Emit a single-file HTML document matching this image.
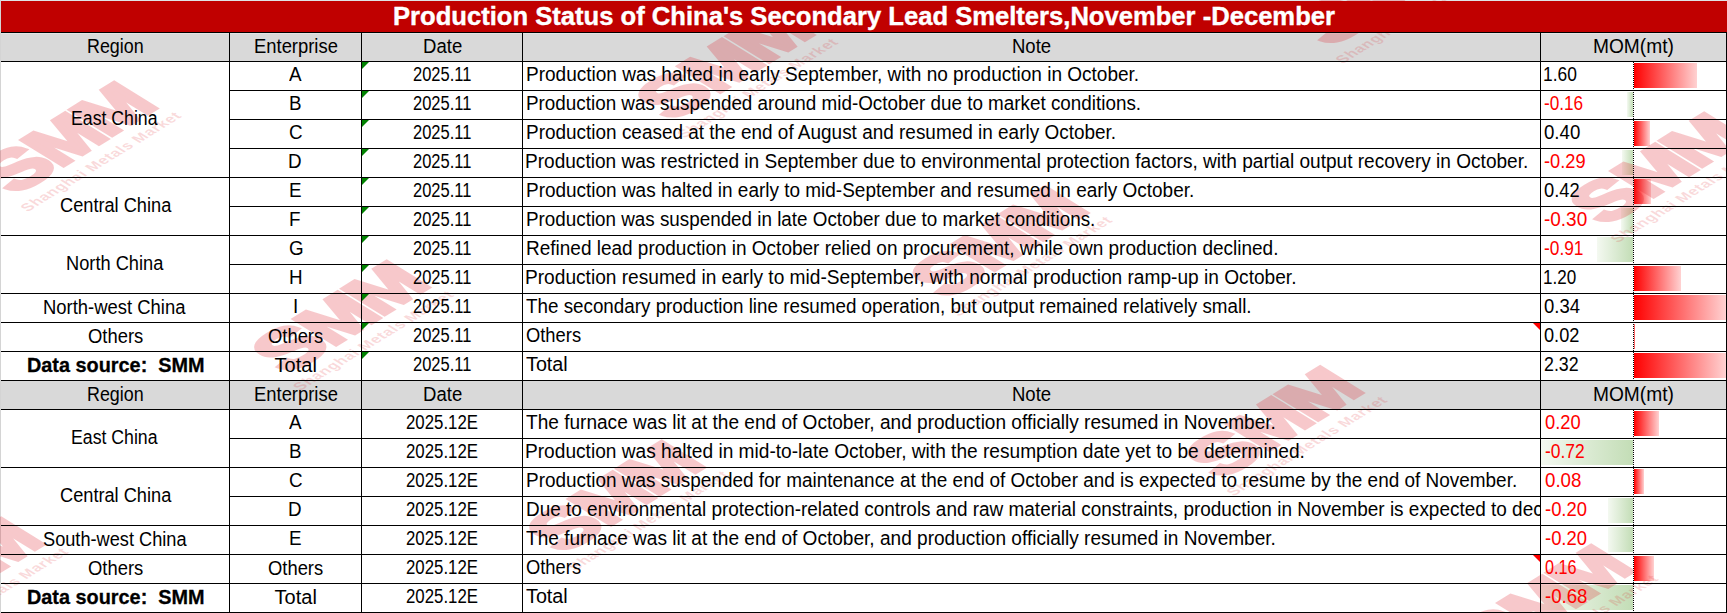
<!DOCTYPE html>
<html><head><meta charset="utf-8"><title>Production Status</title>
<style>
html,body{margin:0;padding:0;}
body{font-family:"Liberation Sans",sans-serif;color:#000;background:#fff;}
.x{position:absolute;white-space:nowrap;line-height:24px;height:24px;transform-origin:0 0;}
.n{font-size:20px;}
.b{font-size:21px;font-weight:bold;-webkit-text-stroke:0.3px currentColor;}
.ttl{font-size:26px;font-weight:bold;line-height:30px;height:30px;-webkit-text-stroke:0.4px currentColor;}

body{width:1727px;height:613px;position:relative;overflow:hidden;}
.abs{position:absolute;}
.hl{position:absolute;height:1px;background:#000;left:1px;}
.vl{position:absolute;width:1px;background:#000;}
.gt{position:absolute;width:0;height:0;border-top:7px solid #008200;border-right:7px solid transparent;}
.rt{position:absolute;width:0;height:0;border-top:7px solid #ff0000;border-left:7px solid transparent;}
.bp{position:absolute;height:25px;background:linear-gradient(to right,#ff0000,#ffd2d2);}
.bn{position:absolute;height:25px;background:linear-gradient(to right,#f4f9f1,#c3ddb6);}
.ax{position:absolute;width:1px;background:repeating-linear-gradient(to bottom,#000 0,#000 1px,transparent 1px,transparent 2px);}
</style></head><body>

<div class="abs" style="left:0;top:0;width:1727px;height:1px;background:#dfe3e6"></div>
<div class="abs" style="left:0;top:0;width:1px;height:613px;background:#d4d4d4"></div>
<div class="abs" style="left:1px;top:33px;width:1725px;height:28px;background:#d9d9d9"></div>
<div class="abs" style="left:1px;top:33px;width:1725px;height:1px;background:#e4e4e4"></div>
<div class="abs" style="left:1px;top:381px;width:1725px;height:28px;background:#d9d9d9"></div>
<div class="bp" style="left:1634px;top:63px;width:63px"></div>
<div class="bn" style="left:1627px;top:92px;width:6px"></div>
<div class="bp" style="left:1634px;top:121px;width:16px"></div>
<div class="bn" style="left:1622px;top:150px;width:11px"></div>
<div class="bp" style="left:1634px;top:179px;width:17px"></div>
<div class="bn" style="left:1621px;top:208px;width:12px"></div>
<div class="bn" style="left:1597px;top:237px;width:36px"></div>
<div class="bp" style="left:1634px;top:266px;width:47px"></div>
<div class="bp" style="left:1634px;top:295px;width:92px"></div>
<div class="bp" style="left:1634px;top:324px;width:1px"></div>
<div class="bp" style="left:1634px;top:353px;width:92px"></div>
<div class="bp" style="left:1634px;top:411px;width:25px"></div>
<div class="bn" style="left:1541px;top:440px;width:92px"></div>
<div class="bp" style="left:1634px;top:469px;width:10px"></div>
<div class="bn" style="left:1608px;top:498px;width:25px"></div>
<div class="bn" style="left:1608px;top:527px;width:25px"></div>
<div class="bp" style="left:1634px;top:556px;width:20px"></div>
<div class="bn" style="left:1541px;top:585px;width:92px"></div>
<svg class="abs" style="left:0;top:0;opacity:0.23" width="1727" height="613" viewBox="0 0 1727 613">
<g transform="translate(22.0,210.0) scale(1.618,1) rotate(-45)"><g fill="#e01822" font-family="Liberation Sans, sans-serif" font-weight="bold"><g font-size="53" stroke="#e01822" stroke-width="3.4" stroke-linejoin="miter" text-anchor="middle"><text transform="translate(27.2,-13.2) scale(1.13,1)">S</text><text transform="translate(68.5,-13.2) scale(1.02,1)">M</text><text transform="translate(111.2,-13.2) scale(1.03,1)">M</text></g><text x="1" y="4" font-size="11" textLength="135" lengthAdjust="spacing" fill-opacity="0.7">Shanghai Metals Market</text></g></g>
<g transform="translate(678.8,136.4) scale(1.618,1) rotate(-45)"><g fill="#e01822" font-family="Liberation Sans, sans-serif" font-weight="bold"><g font-size="53" stroke="#e01822" stroke-width="3.4" stroke-linejoin="miter" text-anchor="middle"><text transform="translate(27.2,-13.2) scale(1.13,1)">S</text><text transform="translate(68.5,-13.2) scale(1.02,1)">M</text><text transform="translate(111.2,-13.2) scale(1.03,1)">M</text></g><text x="1" y="4" font-size="11" textLength="135" lengthAdjust="spacing" fill-opacity="0.7">Shanghai Metals Market</text></g></g>
<g transform="translate(1337.0,62.0) scale(1.618,1) rotate(-45)"><g fill="#e01822" font-family="Liberation Sans, sans-serif" font-weight="bold"><g font-size="53" stroke="#e01822" stroke-width="3.4" stroke-linejoin="miter" text-anchor="middle"><text transform="translate(27.2,-13.2) scale(1.13,1)">S</text><text transform="translate(68.5,-13.2) scale(1.02,1)">M</text><text transform="translate(111.2,-13.2) scale(1.03,1)">M</text></g><text x="1" y="4" font-size="11" textLength="135" lengthAdjust="spacing" fill-opacity="0.7">Shanghai Metals Market</text></g></g>
<g transform="translate(1612.0,241.0) scale(1.618,1) rotate(-45)"><g fill="#e01822" font-family="Liberation Sans, sans-serif" font-weight="bold"><g font-size="53" stroke="#e01822" stroke-width="3.4" stroke-linejoin="miter" text-anchor="middle"><text transform="translate(27.2,-13.2) scale(1.13,1)">S</text><text transform="translate(68.5,-13.2) scale(1.02,1)">M</text><text transform="translate(111.2,-13.2) scale(1.03,1)">M</text></g><text x="1" y="4" font-size="11" textLength="135" lengthAdjust="spacing" fill-opacity="0.7">Shanghai Metals Market</text></g></g>
<g transform="translate(294.5,389.0) scale(1.618,1) rotate(-45)"><g fill="#e01822" font-family="Liberation Sans, sans-serif" font-weight="bold"><g font-size="53" stroke="#e01822" stroke-width="3.4" stroke-linejoin="miter" text-anchor="middle"><text transform="translate(27.2,-13.2) scale(1.13,1)">S</text><text transform="translate(68.5,-13.2) scale(1.02,1)">M</text><text transform="translate(111.2,-13.2) scale(1.03,1)">M</text></g><text x="1" y="4" font-size="11" textLength="135" lengthAdjust="spacing" fill-opacity="0.7">Shanghai Metals Market</text></g></g>
<g transform="translate(953.0,314.5) scale(1.618,1) rotate(-45)"><g fill="#e01822" font-family="Liberation Sans, sans-serif" font-weight="bold"><g font-size="53" stroke="#e01822" stroke-width="3.4" stroke-linejoin="miter" text-anchor="middle"><text transform="translate(27.2,-13.2) scale(1.13,1)">S</text><text transform="translate(68.5,-13.2) scale(1.02,1)">M</text><text transform="translate(111.2,-13.2) scale(1.03,1)">M</text></g><text x="1" y="4" font-size="11" textLength="135" lengthAdjust="spacing" fill-opacity="0.7">Shanghai Metals Market</text></g></g>
<g transform="translate(569.5,569.0) scale(1.618,1) rotate(-45)"><g fill="#e01822" font-family="Liberation Sans, sans-serif" font-weight="bold"><g font-size="53" stroke="#e01822" stroke-width="3.4" stroke-linejoin="miter" text-anchor="middle"><text transform="translate(27.2,-13.2) scale(1.13,1)">S</text><text transform="translate(68.5,-13.2) scale(1.02,1)">M</text><text transform="translate(111.2,-13.2) scale(1.03,1)">M</text></g><text x="1" y="4" font-size="11" textLength="135" lengthAdjust="spacing" fill-opacity="0.7">Shanghai Metals Market</text></g></g>
<g transform="translate(1228.0,494.4) scale(1.618,1) rotate(-45)"><g fill="#e01822" font-family="Liberation Sans, sans-serif" font-weight="bold"><g font-size="53" stroke="#e01822" stroke-width="3.4" stroke-linejoin="miter" text-anchor="middle"><text transform="translate(27.2,-13.2) scale(1.13,1)">S</text><text transform="translate(68.5,-13.2) scale(1.02,1)">M</text><text transform="translate(111.2,-13.2) scale(1.03,1)">M</text></g><text x="1" y="4" font-size="11" textLength="135" lengthAdjust="spacing" fill-opacity="0.7">Shanghai Metals Market</text></g></g>
<g transform="translate(-91.0,646.0) scale(1.618,1) rotate(-45)"><g fill="#e01822" font-family="Liberation Sans, sans-serif" font-weight="bold"><g font-size="53" stroke="#e01822" stroke-width="3.4" stroke-linejoin="miter" text-anchor="middle"><text transform="translate(27.2,-13.2) scale(1.13,1)">S</text><text transform="translate(68.5,-13.2) scale(1.02,1)">M</text><text transform="translate(111.2,-13.2) scale(1.03,1)">M</text></g><text x="1" y="4" font-size="11" textLength="135" lengthAdjust="spacing" fill-opacity="0.7">Shanghai Metals Market</text></g></g>
<g transform="translate(1499.0,673.0) scale(1.618,1) rotate(-45)"><g fill="#e01822" font-family="Liberation Sans, sans-serif" font-weight="bold"><g font-size="53" stroke="#e01822" stroke-width="3.4" stroke-linejoin="miter" text-anchor="middle"><text transform="translate(27.2,-13.2) scale(1.13,1)">S</text><text transform="translate(68.5,-13.2) scale(1.02,1)">M</text><text transform="translate(111.2,-13.2) scale(1.03,1)">M</text></g><text x="1" y="4" font-size="11" textLength="135" lengthAdjust="spacing" fill-opacity="0.7">Shanghai Metals Market</text></g></g>
</svg>
<div class="abs" style="left:1px;top:1px;width:1726px;height:31px;background:#c00000"></div>
<div class="hl" style="top:32px;width:1726px"></div>
<div class="hl" style="top:61px;width:1726px"></div>
<div class="hl" style="left:229px;top:90px;width:1498px"></div>
<div class="hl" style="left:229px;top:119px;width:1498px"></div>
<div class="hl" style="left:229px;top:148px;width:1498px"></div>
<div class="hl" style="top:177px;width:1726px"></div>
<div class="hl" style="left:229px;top:206px;width:1498px"></div>
<div class="hl" style="top:235px;width:1726px"></div>
<div class="hl" style="left:229px;top:264px;width:1498px"></div>
<div class="hl" style="top:293px;width:1726px"></div>
<div class="hl" style="top:322px;width:1726px"></div>
<div class="hl" style="top:351px;width:1726px"></div>
<div class="hl" style="top:380px;width:1726px"></div>
<div class="hl" style="top:409px;width:1726px"></div>
<div class="hl" style="left:229px;top:438px;width:1498px"></div>
<div class="hl" style="top:467px;width:1726px"></div>
<div class="hl" style="left:229px;top:496px;width:1498px"></div>
<div class="hl" style="top:525px;width:1726px"></div>
<div class="hl" style="top:554px;width:1726px"></div>
<div class="hl" style="top:583px;width:1726px"></div>
<div class="hl" style="top:612px;width:1726px"></div>
<div class="vl" style="left:229px;top:32px;height:581px"></div>
<div class="vl" style="left:361px;top:32px;height:581px"></div>
<div class="vl" style="left:522px;top:32px;height:581px"></div>
<div class="vl" style="left:1540px;top:32px;height:581px"></div>
<div class="vl" style="left:1726px;top:32px;height:581px"></div>
<div class="x ttl" style="left:393.12px;top:1px;transform:scaleX(0.9844);color:#fff;">Production Status of China&#x27;s Secondary Lead Smelters,November -December</div>
<div class="x n" style="left:86.71px;top:34px;transform:scaleX(0.8933);">Region</div>
<div class="x n" style="left:253.76px;top:34px;transform:scaleX(0.9205);">Enterprise</div>
<div class="x n" style="left:422.94px;top:34px;transform:scaleX(0.9282);">Date</div>
<div class="x n" style="left:1011.95px;top:34px;transform:scaleX(0.9256);">Note</div>
<div class="x n" style="left:1593.28px;top:34px;transform:scaleX(0.9580);">MOM(mt)</div>
<div class="x n" style="left:86.71px;top:382px;transform:scaleX(0.8933);">Region</div>
<div class="x n" style="left:253.76px;top:382px;transform:scaleX(0.9205);">Enterprise</div>
<div class="x n" style="left:422.94px;top:382px;transform:scaleX(0.9282);">Date</div>
<div class="x n" style="left:1011.95px;top:382px;transform:scaleX(0.9256);">Note</div>
<div class="x n" style="left:1593.28px;top:382px;transform:scaleX(0.9580);">MOM(mt)</div>
<div class="x n" style="left:289.49px;top:62px;transform:scaleX(0.9400);">A</div>
<div class="x n" style="left:412.68px;top:62px;transform:scaleX(0.8246);">2025.11</div>
<div class="x n note" style="left:525.50px;top:62px;transform:scaleX(0.9509);">Production was halted in early September, with no production in October.</div>
<div class="x n" style="left:1542.86px;top:62px;transform:scaleX(0.8694);">1.60</div>
<div class="x n" style="left:289.02px;top:91px;transform:scaleX(0.9400);">B</div>
<div class="x n" style="left:412.68px;top:91px;transform:scaleX(0.8246);">2025.11</div>
<div class="x n note" style="left:525.51px;top:91px;transform:scaleX(0.9425);">Production was suspended around mid-October due to market conditions.</div>
<div class="x n" style="left:1544.44px;top:91px;transform:scaleX(0.8591);color:#ff0000;">-0.16</div>
<div class="x n" style="left:288.55px;top:120px;transform:scaleX(0.9400);">C</div>
<div class="x n" style="left:412.68px;top:120px;transform:scaleX(0.8246);">2025.11</div>
<div class="x n note" style="left:525.50px;top:120px;transform:scaleX(0.9477);">Production ceased at the end of August and resumed in early October.</div>
<div class="x n" style="left:1544.37px;top:120px;transform:scaleX(0.9324);">0.40</div>
<div class="x n" style="left:288.08px;top:149px;transform:scaleX(0.9400);">D</div>
<div class="x n" style="left:412.68px;top:149px;transform:scaleX(0.8246);">2025.11</div>
<div class="x n note" style="left:525.49px;top:149px;transform:scaleX(0.9530);">Production was restricted in September due to environmental protection factors, with partial output recovery in October.</div>
<div class="x n" style="left:1544.39px;top:149px;transform:scaleX(0.9114);color:#ff0000;">-0.29</div>
<div class="x n" style="left:288.55px;top:178px;transform:scaleX(0.9400);">E</div>
<div class="x n" style="left:412.68px;top:178px;transform:scaleX(0.8246);">2025.11</div>
<div class="x n note" style="left:525.50px;top:178px;transform:scaleX(0.9481);">Production was halted in early to mid-September and resumed in early October.</div>
<div class="x n" style="left:1544.38px;top:178px;transform:scaleX(0.9162);">0.42</div>
<div class="x n" style="left:289.02px;top:207px;transform:scaleX(0.9400);">F</div>
<div class="x n" style="left:412.68px;top:207px;transform:scaleX(0.8246);">2025.11</div>
<div class="x n note" style="left:525.52px;top:207px;transform:scaleX(0.9413);">Production was suspended in late October due to market conditions.</div>
<div class="x n" style="left:1544.35px;top:207px;transform:scaleX(0.9477);color:#ff0000;">-0.30</div>
<div class="x n" style="left:288.55px;top:236px;transform:scaleX(0.9400);">G</div>
<div class="x n" style="left:412.68px;top:236px;transform:scaleX(0.8246);">2025.11</div>
<div class="x n note" style="left:525.50px;top:236px;transform:scaleX(0.9492);">Refined lead production in October relied on procurement, while own production declined.</div>
<div class="x n" style="left:1544.43px;top:236px;transform:scaleX(0.8659);color:#ff0000;">-0.91</div>
<div class="x n" style="left:288.55px;top:265px;transform:scaleX(0.9400);">H</div>
<div class="x n" style="left:412.68px;top:265px;transform:scaleX(0.8246);">2025.11</div>
<div class="x n note" style="left:525.49px;top:265px;transform:scaleX(0.9559);">Production resumed in early to mid-September, with normal production ramp-up in October.</div>
<div class="x n" style="left:1542.89px;top:265px;transform:scaleX(0.8528);">1.20</div>
<div class="x n" style="left:292.78px;top:294px;transform:scaleX(0.9400);">I</div>
<div class="x n" style="left:412.68px;top:294px;transform:scaleX(0.8246);">2025.11</div>
<div class="x n note" style="left:526.10px;top:294px;transform:scaleX(0.9404);">The secondary production line resumed operation, but output remained relatively small.</div>
<div class="x n" style="left:1544.38px;top:294px;transform:scaleX(0.9243);">0.34</div>
<div class="x n" style="left:268.38px;top:324px;transform:scaleX(0.9190);">Others</div>
<div class="x n" style="left:412.68px;top:323px;transform:scaleX(0.8246);">2025.11</div>
<div class="x n note" style="left:526.48px;top:323px;transform:scaleX(0.9172);">Others</div>
<div class="x n" style="left:1544.39px;top:323px;transform:scaleX(0.9081);">0.02</div>
<div class="x n" style="left:274.40px;top:353px;letter-spacing:0.100px;">Total</div>
<div class="x n" style="left:412.68px;top:352px;transform:scaleX(0.8246);">2025.11</div>
<div class="x n note" style="left:526.10px;top:352px;transform:scaleX(0.9878);">Total</div>
<div class="x n" style="left:1544.41px;top:352px;transform:scaleX(0.8892);">2.32</div>
<div class="x n" style="left:289.49px;top:410px;transform:scaleX(0.9400);">A</div>
<div class="x n" style="left:405.76px;top:410px;transform:scaleX(0.8405);">2025.12E</div>
<div class="x n note" style="left:526.10px;top:410px;transform:scaleX(0.9532);">The furnace was lit at the end of October, and production officially resumed in November.</div>
<div class="x n" style="left:1544.68px;top:410px;transform:scaleX(0.9162);color:#ff0000;">0.20</div>
<div class="x n" style="left:289.02px;top:439px;transform:scaleX(0.9400);">B</div>
<div class="x n" style="left:405.76px;top:439px;transform:scaleX(0.8405);">2025.12E</div>
<div class="x n note" style="left:525.49px;top:439px;transform:scaleX(0.9558);">Production was halted in mid-to-late October, with the resumption date yet to be determined.</div>
<div class="x n" style="left:1544.73px;top:439px;transform:scaleX(0.8727);color:#ff0000;">-0.72</div>
<div class="x n" style="left:288.55px;top:468px;transform:scaleX(0.9400);">C</div>
<div class="x n" style="left:405.76px;top:468px;transform:scaleX(0.8405);">2025.12E</div>
<div class="x n note" style="left:525.51px;top:468px;transform:scaleX(0.9474);">Production was suspended for maintenance at the end of October and is expected to resume by the end of November.</div>
<div class="x n" style="left:1544.66px;top:468px;transform:scaleX(0.9351);color:#ff0000;">0.08</div>
<div class="x n" style="left:288.08px;top:497px;transform:scaleX(0.9400);">D</div>
<div class="x n" style="left:405.76px;top:497px;transform:scaleX(0.8405);">2025.12E</div>
<div class="x n note" style="left:525.50px;top:497px;transform:scaleX(0.9477);width:1070.4px;overflow:hidden;">Due to environmental protection-related controls and raw material constraints, production in November is expected to decline</div>
<div class="x n" style="left:1544.88px;top:497px;transform:scaleX(0.9205);color:#ff0000;">-0.20</div>
<div class="x n" style="left:288.55px;top:526px;transform:scaleX(0.9400);">E</div>
<div class="x n" style="left:405.76px;top:526px;transform:scaleX(0.8405);">2025.12E</div>
<div class="x n note" style="left:526.10px;top:526px;transform:scaleX(0.9532);">The furnace was lit at the end of October, and production officially resumed in November.</div>
<div class="x n" style="left:1544.88px;top:526px;transform:scaleX(0.9205);color:#ff0000;">-0.20</div>
<div class="x n" style="left:268.38px;top:556px;transform:scaleX(0.9190);">Others</div>
<div class="x n" style="left:405.76px;top:555px;transform:scaleX(0.8405);">2025.12E</div>
<div class="x n note" style="left:526.48px;top:555px;transform:scaleX(0.9172);">Others</div>
<div class="x n" style="left:1544.79px;top:555px;transform:scaleX(0.8108);color:#ff0000;">0.16</div>
<div class="x n" style="left:274.40px;top:585px;letter-spacing:0.100px;">Total</div>
<div class="x n" style="left:405.76px;top:584px;transform:scaleX(0.8405);">2025.12E</div>
<div class="x n note" style="left:526.10px;top:584px;transform:scaleX(0.9878);">Total</div>
<div class="x n" style="left:1544.67px;top:584px;transform:scaleX(0.9318);color:#ff0000;">-0.68</div>
<div class="x n" style="left:70.93px;top:106px;transform:scaleX(0.8844);">East China</div>
<div class="x n" style="left:59.69px;top:193px;transform:scaleX(0.9099);">Central China</div>
<div class="x n" style="left:65.98px;top:251px;transform:scaleX(0.9124);">North China</div>
<div class="x n" style="left:42.56px;top:295px;transform:scaleX(0.9222);">North-west China</div>
<div class="x n" style="left:88.48px;top:324px;transform:scaleX(0.9207);">Others</div>
<div class="x b" style="left:26.65px;top:353px;transform:scaleX(0.9452);">Data source:&nbsp; SMM</div>
<div class="x n" style="left:70.93px;top:425px;transform:scaleX(0.8844);">East China</div>
<div class="x n" style="left:59.69px;top:483px;transform:scaleX(0.9099);">Central China</div>
<div class="x n" style="left:42.99px;top:527px;transform:scaleX(0.9096);">South-west China</div>
<div class="x n" style="left:88.48px;top:556px;transform:scaleX(0.9207);">Others</div>
<div class="x b" style="left:26.65px;top:585px;transform:scaleX(0.9452);">Data source:&nbsp; SMM</div>
<div class="ax" style="left:1633px;top:62px;height:319px"></div>
<div class="ax" style="left:1633px;top:410px;height:203px"></div>
<div class="gt" style="left:362px;top:62px"></div>
<div class="gt" style="left:362px;top:91px"></div>
<div class="gt" style="left:362px;top:120px"></div>
<div class="gt" style="left:362px;top:149px"></div>
<div class="gt" style="left:362px;top:178px"></div>
<div class="gt" style="left:362px;top:207px"></div>
<div class="gt" style="left:362px;top:236px"></div>
<div class="gt" style="left:362px;top:265px"></div>
<div class="gt" style="left:362px;top:294px"></div>
<div class="gt" style="left:362px;top:323px"></div>
<div class="gt" style="left:362px;top:352px"></div>
<div class="rt" style="left:1533px;top:323px"></div>
<div class="rt" style="left:1533px;top:555px"></div>
</body></html>
